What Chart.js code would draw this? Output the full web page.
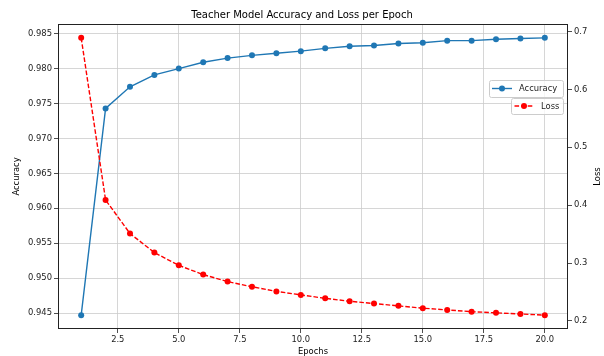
<!DOCTYPE html>
<html>
<head>
<meta charset="utf-8">
<script src="https://cdn.jsdelivr.net/npm/chart.js@4.4.1/dist/chart.umd.min.js"></script>
<style>
html,body{margin:0;padding:0;background:#fff;}
canvas{display:block;}
</style>
</head>
<body>
<canvas id="c" width="604" height="356"></canvas>
<script>
const epochs = [1,2,3,4,5,6,7,8,9,10,11,12,13,14,15,16,17,18,19,20];
const accuracy = [0.9447,0.9743,0.9774,0.9791,0.9800,0.9809,0.9815,0.9819,0.9822,0.9825,0.9829,0.9832,0.9833,0.9836,0.9837,0.9840,0.9840,0.9842,0.9843,0.9844];
const loss = [0.689,0.409,0.351,0.318,0.296,0.280,0.268,0.259,0.251,0.245,0.239,0.234,0.230,0.226,0.222,0.219,0.216,0.214,0.212,0.210];
const xTicks = [2.5,5.0,7.5,10.0,12.5,15.0,17.5,20.0];
const accTicks = [0.945,0.950,0.955,0.960,0.965,0.970,0.975,0.980,0.985];
const lossTicks = [0.2,0.3,0.4,0.5,0.6,0.7];

const FONT = "'DejaVu Sans', sans-serif";
const TICK_SIZE = 8.4;
const BLUE = '#1f77b4';
const RED = '#ff0000';

function padRange(arr){
  const mn = Math.min(...arr), mx = Math.max(...arr);
  const m = (mx - mn) * 0.05;
  return [mn - m, mx + m];
}
const xR = padRange(epochs);
const aR = padRange(accuracy);
const lR = padRange(loss);

const frameAndLegend = {
  id: 'frameAndLegend',
  afterDraw(chart){
    const ctx = chart.ctx;
    const a = chart.chartArea;
    ctx.save();
    ctx.strokeStyle = '#222';
    ctx.lineWidth = 1;
    ctx.strokeRect(Math.round(a.left)+0.5, Math.round(a.top)+0.5, Math.round(a.right-a.left)-1, Math.round(a.bottom-a.top)-1);

    // right axis title, rotated like matplotlib (reads bottom to top)
    ctx.save();
    ctx.font = TICK_SIZE + 'px ' + FONT;
    ctx.fillStyle = '#000';
    ctx.textAlign = 'center';
    ctx.textBaseline = 'middle';
    ctx.translate(597.5, (a.top + a.bottom) / 2);
    ctx.rotate(-Math.PI / 2);
    ctx.fillText('Loss', 0, 0);
    ctx.restore();

    function box(x1,y1,x2,y2){
      const r = 2;
      ctx.beginPath();
      ctx.moveTo(x1+r,y1);
      ctx.lineTo(x2-r,y1); ctx.quadraticCurveTo(x2,y1,x2,y1+r);
      ctx.lineTo(x2,y2-r); ctx.quadraticCurveTo(x2,y2,x2-r,y2);
      ctx.lineTo(x1+r,y2); ctx.quadraticCurveTo(x1,y2,x1,y2-r);
      ctx.lineTo(x1,y1+r); ctx.quadraticCurveTo(x1,y1,x1+r,y1);
      ctx.closePath();
      ctx.fillStyle = 'rgba(255,255,255,0.8)';
      ctx.fill();
      ctx.strokeStyle = '#cccccc';
      ctx.lineWidth = 1;
      ctx.stroke();
    }
    ctx.font = TICK_SIZE + 'px ' + FONT;
    ctx.textBaseline = 'middle';
    ctx.textAlign = 'left';
    const R = 563.5;
    // Accuracy legend
    box(489.5, 80.5, R, 97.5);
    ctx.strokeStyle = BLUE; ctx.lineWidth = 1.4; ctx.setLineDash([]);
    ctx.beginPath(); ctx.moveTo(492, 88.5); ctx.lineTo(512, 88.5); ctx.stroke();
    ctx.fillStyle = BLUE;
    ctx.beginPath(); ctx.arc(502, 88.5, 3, 0, Math.PI*2); ctx.fill();
    ctx.fillStyle = '#222';
    ctx.fillText('Accuracy', 519, 89);
    // Loss legend
    box(511.5, 98.5, R, 114.5);
    ctx.strokeStyle = RED; ctx.lineWidth = 1.4; ctx.setLineDash([4.6,2]);
    ctx.beginPath(); ctx.moveTo(514.5, 106); ctx.lineTo(534, 106); ctx.stroke();
    ctx.setLineDash([]);
    ctx.fillStyle = RED;
    ctx.beginPath(); ctx.arc(524, 106, 3, 0, Math.PI*2); ctx.fill();
    ctx.fillStyle = '#222';
    ctx.fillText('Loss', 541, 106.5);
    ctx.restore();
  }
};

const tickFont = {family: FONT, size: TICK_SIZE};

new Chart(document.getElementById('c'), {
  type: 'line',
  data: {
    datasets: [
      {
        label: 'Accuracy',
        data: epochs.map((e,i)=>({x:e, y:accuracy[i]})),
        yAxisID: 'y',
        borderColor: BLUE,
        backgroundColor: BLUE,
        pointBackgroundColor: BLUE,
        pointBorderColor: BLUE,
        pointRadius: 3,
        pointBorderWidth: 0,
        borderWidth: 1.4,
        tension: 0,
        order: 1
      },
      {
        label: 'Loss',
        data: epochs.map((e,i)=>({x:e, y:loss[i]})),
        yAxisID: 'y1',
        borderColor: RED,
        backgroundColor: RED,
        pointBackgroundColor: RED,
        pointBorderColor: RED,
        pointRadius: 3,
        pointBorderWidth: 0,
        borderWidth: 1.4,
        borderDash: [4.6,2],
        tension: 0,
        order: 0
      }
    ]
  },
  options: {
    responsive: false,
    animation: false,
    devicePixelRatio: 1,
    layout: {padding: {top: 0, left: 0, right: 0, bottom: 0}},
    plugins: {
      legend: {display: false},
      tooltip: {enabled: false},
      title: {
        display: true,
        text: 'Teacher Model Accuracy and Loss per Epoch',
        color: '#000',
        font: {family: FONT, size: 10, weight: 'normal'},
        padding: {top: 9, bottom: 3}
      }
    },
    scales: {
      x: {
        type: 'linear',
        position: 'bottom',
        min: xR[0], max: xR[1],
        afterBuildTicks: s => { s.ticks = xTicks.map(v=>({value:v})); },
        afterFit: s => { s.height = 27; },
        ticks: {
          font: tickFont, color: '#222', padding: 2, maxRotation: 0, autoSkip: false,
          callback: v => Number(v).toFixed(1)
        },
        grid: {color: '#cbcbcb', lineWidth: 0.8, tickColor: '#222', tickLength: 4, tickWidth: 0.8},
        border: {display: false},
        title: {display: true, text: 'Epochs', color: '#000', font: tickFont, padding: {top: 0, bottom: -1}}
      },
      y: {
        type: 'linear',
        position: 'left',
        min: aR[0], max: aR[1],
        afterBuildTicks: s => { s.ticks = accTicks.map(v=>({value:v})); },
        afterFit: s => { s.width = 58; },
        ticks: {
          font: tickFont, color: '#222', padding: 2, autoSkip: false,
          callback: v => Number(v).toFixed(3)
        },
        grid: {color: '#cbcbcb', lineWidth: 0.8, tickColor: '#222', tickLength: 4, tickWidth: 0.8},
        border: {display: false},
        title: {display: true, text: 'Accuracy', color: '#000', font: tickFont, padding: {top: 12, bottom: 0}}
      },
      y1: {
        type: 'linear',
        position: 'right',
        min: lR[0], max: lR[1],
        afterBuildTicks: s => { s.ticks = lossTicks.map(v=>({value:v})); },
        afterFit: s => { s.width = 36; },
        ticks: {
          font: tickFont, color: '#222', padding: 2, autoSkip: false,
          callback: v => Number(v).toFixed(1)
        },
        grid: {drawOnChartArea: false, color: '#cbcbcb', tickColor: '#222', tickLength: 4, tickWidth: 0.8},
        border: {display: false},
        title: {display: false}
      }
    }
  },
  plugins: [frameAndLegend]
});
</script>
</body>
</html>
